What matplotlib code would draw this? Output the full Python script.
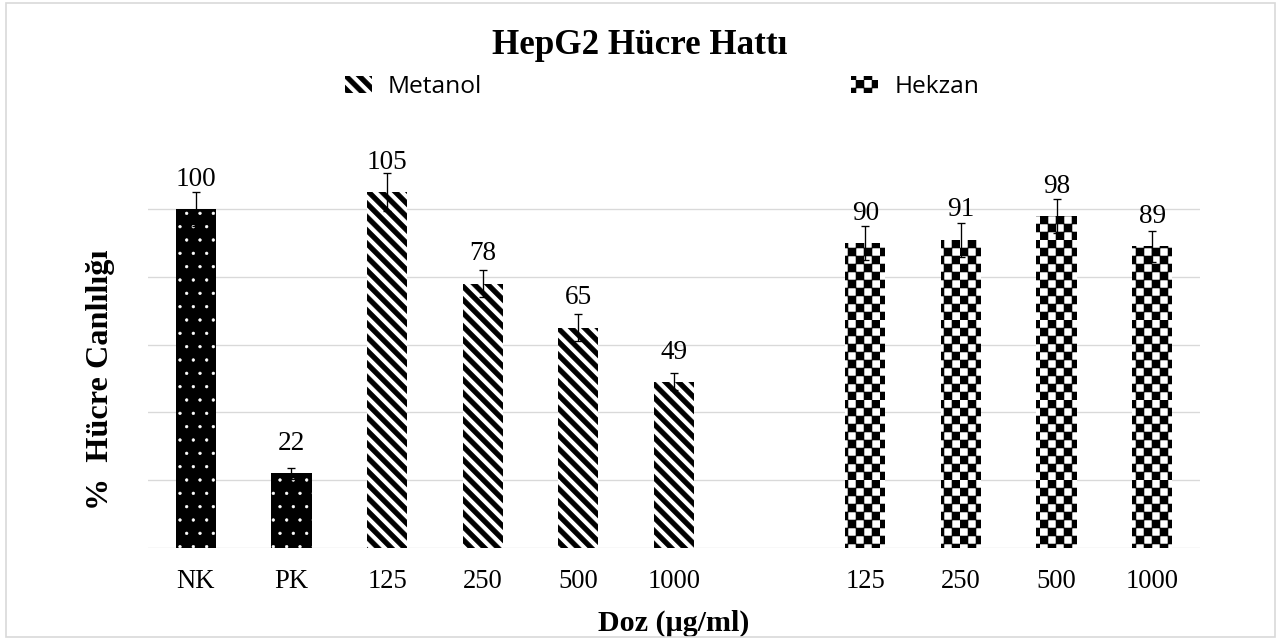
import warnings
import numpy as np
import matplotlib
matplotlib.use('Agg')
import matplotlib.pyplot as plt
from matplotlib import hatch as mhatch
from matplotlib.path import Path
from matplotlib.patches import Rectangle

warnings.filterwarnings('ignore')

# data
controls = ['NK', 'PK']
control_vals = [100, 22]
control_err = [5, 1.5]
doses = ['125', '250', '500', '1000']
metanol_vals = [105, 78, 65, 49]
metanol_err = [5.5, 4, 4, 2.5]
hekzan_vals = [90, 91, 98, 89]
hekzan_err = [5, 5, 5, 4.5]


# filled diagonal stripes ('s') and a checkerboard ('k') as extra hatch types
class StripeHatch(mhatch.HatchPatternBase):
    def __init__(self, hatch, density):
        self.n = 6 if 's' in hatch else 0
        self.num_vertices = 3 * self.n * 5

    def set_vertices_and_codes(self, vertices, codes):
        w = 0.5 / self.n
        k = 0
        for i in range(-self.n, 2 * self.n):
            c = i / self.n
            vertices[k:k + 5] = [(-1, c + 1), (2, c - 2), (2, c + w - 2), (-1, c + w + 1), (-1, c + 1)]
            codes[k:k + 5] = [Path.MOVETO, Path.LINETO, Path.LINETO, Path.LINETO, Path.CLOSEPOLY]
            k += 5


class CheckerHatch(mhatch.HatchPatternBase):
    def __init__(self, hatch, density):
        self.n = 10 if 'k' in hatch else 0
        self.num_vertices = self.n * self.n // 2 * 5

    def set_vertices_and_codes(self, vertices, codes):
        s = 1.0 / self.n
        k = 0
        for i in range(self.n):
            for j in range(self.n):
                if (i + j) % 2:
                    continue
                x, y = i * s, j * s
                vertices[k:k + 5] = [(x, y), (x + s, y), (x + s, y + s), (x, y + s), (x, y)]
                codes[k:k + 5] = [Path.MOVETO, Path.LINETO, Path.LINETO, Path.LINETO, Path.CLOSEPOLY]
                k += 5


mhatch._hatch_types.append(StripeHatch)
mhatch._hatch_types.append(CheckerHatch)

plt.rcParams['hatch.linewidth'] = 0.5
plt.rcParams['font.family'] = ['Liberation Serif', 'DejaVu Serif']

fig = plt.figure(figsize=(16, 8), dpi=80)
ax = fig.add_axes([0.1156, 0.14375, 0.8219, 0.609])

x_ctrl = np.arange(len(controls))
x_met = np.arange(len(doses)) + len(controls)
x_hek = np.arange(len(doses)) + len(controls) + len(doses) + 1

bar_w = 0.42
err_kw = dict(ecolor='black', elinewidth=1.2, capsize=4, capthick=1.2)

b1 = ax.bar(x_ctrl, control_vals, bar_w, yerr=control_err, color='black',
            edgecolor='white', linewidth=0, hatch='.', error_kw=err_kw)
b2 = ax.bar(x_met, metanol_vals, bar_w, yerr=metanol_err, color='white',
            edgecolor='black', linewidth=0, hatch='s', error_kw=err_kw, label='Metanol')
b3 = ax.bar(x_hek, hekzan_vals, bar_w, yerr=hekzan_err, color='white',
            edgecolor='black', linewidth=0, hatch='k', error_kw=err_kw, label='Hekzan')

# value labels
for bars, vals in [(b1, control_vals), (b2, metanol_vals), (b3, hekzan_vals)]:
    for rect, v in zip(bars, vals):
        ax.annotate(str(v), (rect.get_x() + rect.get_width() / 2, rect.get_height()),
                    xytext=(0, 21), textcoords='offset points', ha='center',
                    va='baseline', fontsize=24.5)

ax.set_xlim(-0.5, 10.5)
ax.set_ylim(0, 115)
ax.set_yticks(np.arange(0, 101, 20))
ax.set_yticklabels([])
ax.set_xticks(np.concatenate([x_ctrl, x_met, x_hek]))
ax.set_xticklabels(controls + doses + doses, fontsize=24)
ax.tick_params(axis='both', length=0)
ax.tick_params(axis='x', pad=19)
ax.grid(axis='y', color='#d9d9d9', linewidth=1.2)
ax.set_axisbelow(True)
for s in ax.spines.values():
    s.set_visible(False)

ax.set_xlabel('Doz (µg/ml)', fontsize=27, fontweight='bold', labelpad=14)
ax.set_ylabel('%  Hücre Canlılığı', fontsize=29, fontweight='bold')
ax.yaxis.set_label_coords(-0.031, 0.431)

fig.text(0.5, 1 - 45 / 640, 'HepG2 Hücre Hattı', ha='center', va='center',
         fontsize=31.5, fontweight='bold')

fig.legend(handles=[b2, b3], loc='center left', bbox_to_anchor=(345 / 1280, 1 - 87 / 640),
           ncol=2, frameon=False, prop={'family': 'Open Sans', 'size': 22},
           handlelength=1.1, handleheight=0.74, handletextpad=0.66,
           columnspacing=15.1, borderpad=0, borderaxespad=0)

# light grey frame around the whole chart
fig.patches.append(Rectangle((6 / 1280, 3 / 640), 1269 / 1280, 634 / 640, transform=fig.transFigure,
                             fill=False, edgecolor='#d9d9d9', linewidth=1.5))

fig.savefig('out.png', dpi=80)
